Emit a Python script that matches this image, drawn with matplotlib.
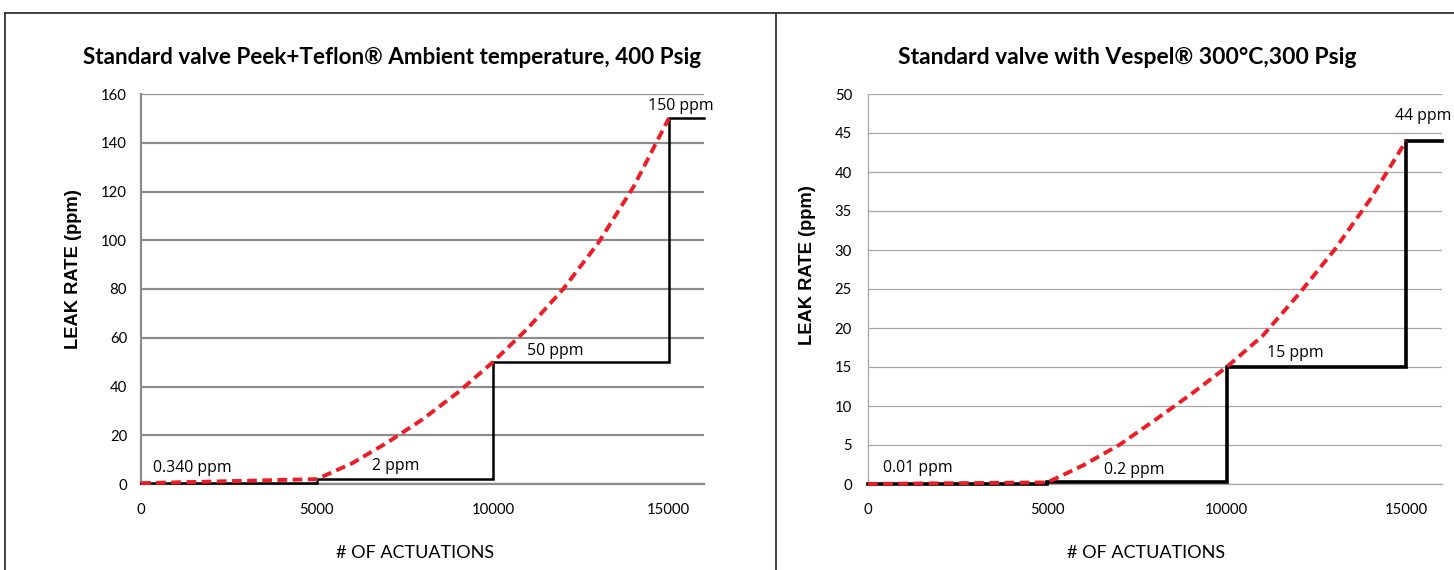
import matplotlib
matplotlib.use("Agg")
import matplotlib.pyplot as plt
from matplotlib.lines import Line2D

# ---------------- data ----------------
left_title = "Standard valve Peek+Teflon® Ambient temperature, 400 Psig"
right_title = "Standard valve with Vespel® 300°C,300 Psig"
x_label = "# OF ACTUATIONS"
y_label = "LEAK RATE (ppm)"

x_ticks = [0, 5000, 10000, 15000]
left_y_ticks = [0, 20, 40, 60, 80, 100, 120, 140, 160]
right_y_ticks = [0, 5, 10, 15, 20, 25, 30, 35, 40, 45, 50]

# measured step levels (black)
step_x = [0, 5000, 10000, 15000, 16000]
left_step_y = [0.34, 2, 50, 150, 150]
right_step_y = [0.01, 0.2, 15, 44, 44]

# trend curve (red dashed)
left_trend_x = [0, 5000, 6000, 7000, 8000, 9000, 10000, 11000, 12000, 13000, 14000, 15000]
left_trend_y = [0.34, 2, 8.5, 17, 26.5, 37.5, 50, 64, 80, 99, 122, 150]
right_trend_x = [0, 5000, 6000, 7000, 8000, 9000, 10000, 11000, 12000, 13000, 14000, 15000]
right_trend_y = [0.01, 0.2, 2.4, 5.0, 8.2, 11.5, 15, 19, 24.3, 30, 36.5, 44]

left_labels = ["0.340 ppm", "2 ppm", "50 ppm", "150 ppm"]
left_label_xy = [(340, 6.6, "left"), (7250, 7.4, "center"), (11761, 54.6, "center"), (15341, 155.1, "center")]
right_labels = ["0.01 ppm", "0.2 ppm", "15 ppm", "44 ppm"]
right_label_xy = [(420, 2.05, "left"), (7416, 1.8, "center"), (11904, 16.8, "center"), (15473, 47.2, "center")]

# ---------------- figure ----------------
W, H = 1454, 570
fig = plt.figure(figsize=(W / 100, H / 100), dpi=100)
fig.patch.set_facecolor("white")
renderer = fig.canvas.get_renderer()


def fx(px):
    return px / W


def fy(py):
    return 1 - py / H


def fitted_size(text, family, weight, target_w=None, target_h=None, rotation=0):
    t = fig.text(0, 0, text, fontsize=10, fontfamily=family, fontweight=weight, rotation=rotation)
    bb = t.get_window_extent(renderer)
    t.remove()
    if target_w is not None:
        return 10 * target_w / bb.width
    return 10 * target_h / bb.height


RED = "#ee1c25"
TICKFONT = "Lato"
tick_fs = fitted_size("15000", TICKFONT, "normal", target_w=43)
ann_fs = fitted_size("150 ppm", "Open Sans", "normal", target_w=66)


def make_panel(rect, yticks, ymax, step_y, trend_x, trend_y, labels, label_xy,
               grid_color, grid_lw, step_lw, ypad):
    ax = fig.add_axes(rect)
    ax.set_xlim(0, 16000)
    ax.set_ylim(0, ymax)
    ax.set_xticks(x_ticks)
    ax.set_yticks(yticks)
    ax.set_xticklabels([str(t) for t in x_ticks], fontfamily=TICKFONT, fontsize=tick_fs)
    ax.set_yticklabels([str(t) for t in yticks], fontfamily=TICKFONT, fontsize=tick_fs)
    ax.tick_params(axis="both", length=0)
    ax.tick_params(axis="x", pad=14)
    ax.tick_params(axis="y", pad=ypad)
    for s in ["top", "right"]:
        ax.spines[s].set_visible(False)
    for s in ["left", "bottom"]:
        ax.spines[s].set_color(grid_color)
        ax.spines[s].set_linewidth(grid_lw)
    ax.grid(axis="y", color=grid_color, linewidth=grid_lw)
    ax.set_axisbelow(True)
    ax.step(step_x, step_y, where="post", color="black", linewidth=step_lw,
            solid_joinstyle="miter", zorder=3, clip_on=False)
    ax.plot(trend_x, trend_y, color=RED, linewidth=2.8, linestyle=(0, (2.5, 1.4)),
            zorder=4, clip_on=False)
    for txt, (x, y, ha) in zip(labels, label_xy):
        ax.text(x, y, txt, ha=ha, va="center", fontsize=ann_fs, fontfamily="Open Sans",
                color="black", clip_on=False, zorder=5)
    return ax


ax1 = make_panel([fx(141), fy(484), fx(563), (484 - 94) / H], left_y_ticks, 160,
                 left_step_y, left_trend_x, left_trend_y, left_labels, left_label_xy,
                 "#8c8c8c", 1.6, 1.8, 10)
ax2 = make_panel([fx(868), fy(484), fx(574), (484 - 94) / H], right_y_ticks, 50,
                 right_step_y, right_trend_x, right_trend_y, right_labels, right_label_xy,
                 "#a6a6a6", 0.9, 2.6, 11.5)

# titles
fs_t1 = fitted_size(left_title, "Lato", "bold", target_w=620)
fs_t2 = fitted_size(right_title, "Lato", "bold", target_w=459)
fig.text(fx(392), fy(58), left_title, ha="center", va="center", fontsize=fs_t1,
         fontweight="bold", fontfamily="Lato")
fig.text(fx(1127), fy(57), right_title, ha="center", va="center", fontsize=fs_t2,
         fontweight="bold", fontfamily="Lato")

# axis labels
fs_x = fitted_size(x_label, TICKFONT, "normal", target_w=157)
fig.text(fx(415), fy(553), x_label, ha="center", va="center", fontsize=fs_x, fontfamily=TICKFONT)
fig.text(fx(1146), fy(553), x_label, ha="center", va="center", fontsize=fs_x, fontfamily=TICKFONT)
fs_y = fitted_size(y_label, "Liberation Sans", "bold", target_h=160, rotation=90)
fig.text(fx(73), fy(269), y_label, ha="center", va="center", rotation=90, fontsize=fs_y,
         fontweight="bold", fontfamily="Liberation Sans")
fig.text(fx(808), fy(265), y_label, ha="center", va="center", rotation=90, fontsize=fs_y,
         fontweight="bold", fontfamily="Liberation Sans")

# panel frames
frame_kw = dict(color="#333333", linewidth=1.3, transform=fig.transFigure)
fig.add_artist(Line2D([fx(5), fx(776)], [fy(13), fy(13)], **frame_kw))
fig.add_artist(Line2D([fx(5), fx(5)], [fy(13), 0], **frame_kw))
fig.add_artist(Line2D([fx(776), fx(776)], [fy(13), 0], **frame_kw))
fig.add_artist(Line2D([fx(776), 1], [fy(13), fy(13)], **frame_kw))

fig.savefig("out.png", dpi=100)
